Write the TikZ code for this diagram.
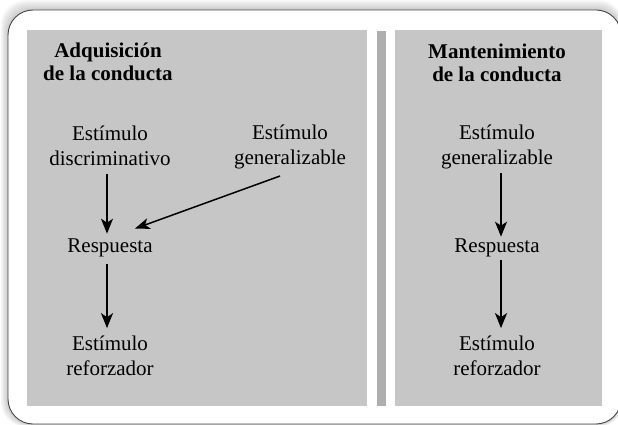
\documentclass[tikz,border=0pt]{standalone}
\usepackage{fontspec}
\setmainfont{Liberation Serif}
\usetikzlibrary{arrows.meta}
\definecolor{panelgray}{RGB}{198,198,198}
\definecolor{bargray}{RGB}{174,174,174}
\definecolor{framegray}{RGB}{70,70,70}
\tikzset{
  lbl/.style={align=center, inner sep=4pt, font=\fontsize{21}{24.5}\selectfont},
  head/.style={lbl, font=\fontsize{21}{23.5}\selectfont\bfseries},
  arr/.style={line width=2pt, -{Stealth[length=15pt,width=12pt,inset=4pt]}},
  darr/.style={line width=1.5pt, -{Stealth[length=15pt,width=11pt,inset=4pt]}}
}
\begin{document}
\begin{tikzpicture}[x=1pt,y=-1pt]
\useasboundingbox (0,0) rectangle (618,425);
% soft shadow and frame
\foreach \i in {1,...,9}{
  \fill[black, opacity=0.025, rounded corners=25pt]
    (8-\i*0.8,10-\i*1.1) rectangle (621+\i*0.3,424+\i*0.3);
}
\fill[white, rounded corners=25pt] (8,10) rectangle (621,424);
\draw[framegray, line width=0.9pt, rounded corners=25pt] (8,10) rectangle (621,424);
% panels
\fill[panelgray] (27,30) rectangle (367,406);
\fill[bargray] (377,31) rectangle (386,406);
\fill[panelgray] (395,30) rectangle (602,406);
% left panel
\node[head] (h1) at (108,62) {Adquisición\\de la conducta};
\node[lbl] (ed) at (110,146) {Estímulo\\discriminativo};
\node[lbl] (eg) at (290,147) {Estímulo\\generalizable};
\node[lbl] (r1) at (110,248) {Respuesta};
\node[lbl] (er1) at (110,356) {Estímulo\\reforzador};
\draw[arr] ([xshift=-3pt,yshift=-4pt]ed.south) -- ([xshift=-3pt,yshift=1pt]r1.north);
\draw[arr] ([xshift=-3pt,yshift=-3pt]r1.south) -- ([xshift=-3pt,yshift=4pt]er1.north);
\draw[darr] ([xshift=-10pt,yshift=-3pt]eg.south) -- ([xshift=-22pt,yshift=6pt]r1.north east);
% right panel
\node[head] (h2) at (497,63) {Mantenimiento\\de la conducta};
\node[lbl] (eg2) at (497,147) {Estímulo\\generalizable};
\node[lbl] (r2) at (497,248) {Respuesta};
\node[lbl] (er2) at (497,356) {Estímulo\\reforzador};
\draw[arr] ([xshift=4pt,yshift=0pt]eg2.south) -- ([xshift=4pt,yshift=-2pt]r2.north);
\draw[arr] ([xshift=4pt,yshift=1pt]r2.south) -- ([xshift=4pt,yshift=4pt]er2.north);
\end{tikzpicture}
\end{document}
